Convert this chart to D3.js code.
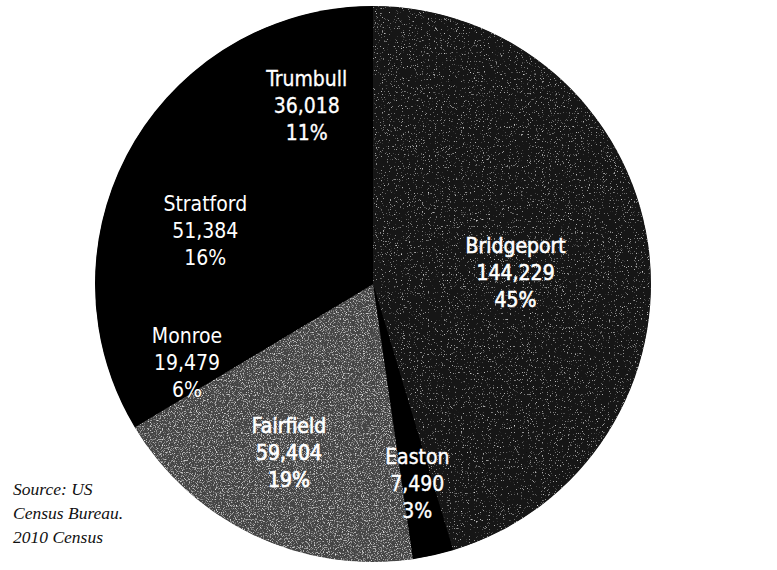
<!DOCTYPE html>
<html>
<head>
<meta charset="utf-8">
<script src="https://cdn.jsdelivr.net/npm/d3@7"></script>
<style>
  body { margin: 0; background: #fff; }
  svg { display: block; }
</style>
</head>
<body>
<div id="pie"></div>
<script>
/* ---------------- data ---------------- */
const towns = ["Bridgeport", "Easton", "Fairfield", "Monroe", "Stratford", "Trumbull"];
const population = [144229, 7490, 59404, 19479, 51384, 36018];
const pctLabels = ["45%", "3%", "19%", "6%", "16%", "11%"];
const sourceLines = ["Source: US", "Census Bureau.", "2010 Census"];

/* ---------------- layout ---------------- */
let width = 777, height = 570;
let cx = 373, cy = 284, radius = 278;

// slice look (base colour + speckle filter)
const sliceFill = ["#151515", "#000000", "#444444", "#000000", "#000000", "#000000"];
const sliceGrain = ["grainDark", null, "grainLight", null, null, null];
// scanned labels on the grey slices came out heavier
const labelHalo = [0.6, 0.4, 0.7, 0, 0, 0.3];

// where each label sits: distance from centre, small nudge off the mid angle (deg)
const labelRadius = [143, 205, 189, 202, 176, 190];
const labelNudge = [4, 0, 1, -3, -2.5, 0];

let svg = d3.select("#pie").append("svg")
    .attr("width", width).attr("height", height);

// speckle filters to mimic the scanned halftone
let defs = svg.append("defs");
function addGrain(id, freq, gain, bias, tone) {
    let f = defs.append("filter").attr("id", id)
        .attr("filterUnits", "userSpaceOnUse")
        .attr("x", -width).attr("y", -height).attr("width", 2 * width).attr("height", 2 * height);
    f.append("feTurbulence").attr("type", "fractalNoise")
        .attr("baseFrequency", freq).attr("numOctaves", 2).attr("seed", 7).attr("result", "noise");
    f.append("feColorMatrix").attr("in", "noise").attr("type", "matrix")
        .attr("values", `0 0 0 0 ${tone}  0 0 0 0 ${tone}  0 0 0 0 ${tone}  ${gain} 0 0 0 ${bias}`)
        .attr("result", "dots");
    f.append("feComposite").attr("in", "dots").attr("in2", "SourceGraphic")
        .attr("operator", "in").attr("result", "clipped");
    let m = f.append("feMerge");
    m.append("feMergeNode").attr("in", "SourceGraphic");
    m.append("feMergeNode").attr("in", "clipped");
}
addGrain("grainDark", 0.85, 4, -2.6, 0.7);
addGrain("grainLight", 0.85, 3, -1.6, 0.85);

let chartGroup = svg.append("g")
    .attr("transform", `translate(${cx}, ${cy})`);

let pie = d3.pie().sort(null).value(d => d);
let arcs = pie(population);
let arc = d3.arc().innerRadius(0).outerRadius(radius);

// black disc underneath so the slice seams don't show
chartGroup.append("circle").attr("r", radius - 0.5).attr("fill", "#000");

chartGroup.selectAll("path.slice")
    .data(arcs)
    .enter()
    .append("path")
    .attr("class", "slice")
    .attr("d", arc)
    .attr("fill", (d, i) => sliceFill[i])
    .attr("filter", (d, i) => sliceGrain[i] ? `url(#${sliceGrain[i]})` : null);

/* ---------------- labels ---------------- */
let fmt = d3.format(",");
let lineGap = 27;

let labels = chartGroup.selectAll("text.lbl")
    .data(arcs)
    .enter()
    .append("text")
    .attr("class", "lbl")
    .attr("text-anchor", "middle")
    .attr("fill", "#fff")
    .attr("stroke", "#fff")
    .attr("stroke-width", (d, i) => labelHalo[i])
    .style("font-family", "'DejaVu Sans Condensed', 'DejaVu Sans', sans-serif")
    .style("font-stretch", "condensed")
    .style("font-size", "21px")
    .attr("transform", (d, i) => {
        let a = (d.startAngle + d.endAngle) / 2 + labelNudge[i] * Math.PI / 180;
        let x = Math.sin(a) * labelRadius[i];
        let y = -Math.cos(a) * labelRadius[i];
        return `translate(${x}, ${y + 7})`;
    });

labels.each(function (d, i) {
    let t = d3.select(this);
    [towns[i], fmt(population[i]), pctLabels[i]].forEach((s, k) => {
        t.append("tspan").attr("x", 0).attr("y", (k - 1) * lineGap).text(s);
    });
});

/* ---------------- source note ---------------- */
let note = svg.append("text")
    .attr("x", 13).attr("y", 495)
    .attr("fill", "#111")
    .style("font-family", "'Liberation Serif', 'DejaVu Serif', serif")
    .style("font-style", "italic")
    .style("font-size", "17.5px");
sourceLines.forEach((s, k) => {
    note.append("tspan").attr("x", 13).attr("y", 495 + k * 24).text(s);
});
</script>
</body>
</html>
